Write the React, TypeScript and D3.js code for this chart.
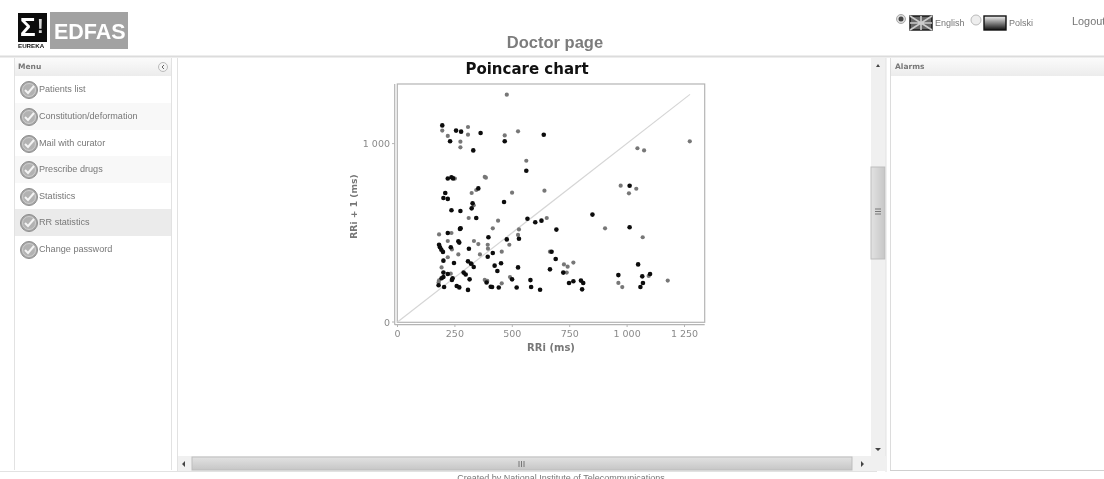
import React from "react";
import * as d3 from "d3";

const title = "Poincare chart";
const xAxisLabel = "RRi (ms)";
const yAxisLabel = "RRi + 1 (ms)";
const xTicks = [0, 250, 500, 750, 1000, 1250];
const yTicks = [0, 1000];
const diagonal: [number, number][] = [[0, 0], [1274, 1276]];
const menuItems = ["Patients list", "Constitution/deformation", "Mail with curator", "Prescribe drugs", "Statistics", "RR statistics", "Change password"];

const darkPoints: [number, number][] = [
  [195,1102],[229,1013],[255,1073],[277,1067],[330,962],[362,1059],[467,1013],[637,1050],[561,848],
  [219,804],[235,811],[242,805],[208,723],[200,695],[219,690],[235,626],[274,622],[352,749],[464,673],
  [327,665],[323,637],[343,583],[566,579],[600,559],[627,568],[275,525],[272,522],[219,499],[265,452],
  [269,445],[396,475],[476,463],[529,467],[181,433],[185,419],[191,405],[198,393],[232,419],[311,411],
  [415,387],[393,366],[200,344],[246,331],[307,340],[320,327],[332,308],[423,316],[435,286],[451,329],
  [525,306],[200,277],[219,269],[200,252],[192,245],[240,245],[237,236],[288,277],[297,266],[314,239],
  [179,206],[203,196],[258,202],[269,194],[307,180],[388,221],[406,198],[412,196],[441,193],[499,239],
  [519,193],[579,235],[582,196],[621,181],[664,295],[849,602],[1011,531],[692,518],[671,394],[689,353],
  [722,277],[747,219],[766,228],[799,232],[809,219],[804,183],[1048,323],[962,263],[1066,256],[1100,269],
  [1069,219],[1058,196],[1011,764],
];
const greyPoints: [number, number][] = [
  [476,1274],[195,1073],[219,1043],[307,1093],[307,1050],[274,1011],[274,979],[467,1046],[525,1069],
  [561,904],[250,804],[380,813],[385,809],[323,723],[343,740],[499,725],[640,736],[332,654],[310,583],
  [650,583],[438,568],[415,525],[181,491],[235,499],[219,454],[333,454],[352,437],[529,519],[525,488],
  [487,433],[237,407],[393,433],[394,411],[454,394],[359,379],[265,379],[219,363],[192,306],[325,325],
  [232,271],[181,234],[179,222],[380,236],[391,230],[454,217],[490,252],[664,394],[904,525],[1068,475],
  [725,323],[741,310],[766,333],[737,277],[962,219],[979,196],[1094,258],[1177,232],[1045,974],[1074,962],
  [1273,1013],[972,764],[1040,747],[1008,721],
];

const sans = "'Liberation Sans', Arial, sans-serif";
const deja = "'DejaVu Sans', sans-serif";
const fmt = (v: number) => d3.format(",")(v).replace(/,/g, " ");

function Check({ cx, cy }: { cx: number; cy: number }) {
  return (
    <g>
      <circle cx={cx} cy={cy} r={8.5} fill="#a6a6a6" stroke="#8e8e8e" strokeWidth={1} />
      <circle cx={cx} cy={cy} r={6.5} fill="#b2b2b2" stroke="#d8d8d8" strokeWidth={0.8} />
      <path d={`M${cx - 4} ${cy} L${cx - 1} ${cy + 3} L${cx + 5} ${cy - 4}`} fill="none" stroke="#f4f4f4" strokeWidth={2} />
    </g>
  );
}

export default function App() {
  const x = d3.scaleLinear().domain([0, 1250]).range([397.5, 684.5]);
  const y = d3.scaleLinear().domain([0, 1000]).range([322, 143.6]);
  const line = d3.line<[number, number]>().x((d) => x(d[0])).y((d) => y(d[1]));
  const rowTops = [76, 103, 130, 156, 183, 209, 236];
  const tickColor = "#8a8a8a";
  return (
    <svg width={1104} height={479} style={{ position: "fixed", left: 0, top: 0, background: "#fff", filter: "blur(0.45px)" }}>
      <defs>
        <linearGradient id="hd" x1="0" x2="0" y1="0" y2="1">
          <stop offset="0" stopColor="#fbfbfb" />
          <stop offset="1" stopColor="#ececec" />
        </linearGradient>
        <linearGradient id="sb" x1="0" x2="0" y1="0" y2="1">
          <stop offset="0" stopColor="#e2e2e2" />
          <stop offset="1" stopColor="#c6c6c6" />
        </linearGradient>
        <linearGradient id="sv" x1="0" x2="1" y1="0" y2="0">
          <stop offset="0" stopColor="#e2e2e2" />
          <stop offset="1" stopColor="#c6c6c6" />
        </linearGradient>
        <linearGradient id="pl" x1="0" x2="0" y1="0" y2="1">
          <stop offset="0" stopColor="#f4f4f4" />
          <stop offset="1" stopColor="#111" />
        </linearGradient>
      </defs>

      {/* Header */}
      <rect x={18} y={13} width={29} height={36} fill="#0c0c0c" />
      <rect x={18} y={42} width={29} height={7} fill="#fff" />
      <text x={20} y={36} fontFamily={sans} fontSize={26} fontWeight={700} fill="#fff">Σ</text>
      <text x={37} y={33} fontFamily={sans} fontSize={20} fontWeight={700} fill="#d8d8d8">!</text>
      <text x={18} y={48} fontFamily={sans} fontSize={6.2} fontWeight={700} fill="#111">EUREKA</text>
      <rect x={50} y={12} width={78} height={37} fill="#a2a2a2" />
      <text x={54} y={39} fontFamily={sans} fontSize={21.5} fontWeight={700} fill="#fff">EDFAS</text>
      <text x={555} y={47.5} textAnchor="middle" fontFamily={sans} fontSize={16.5} fontWeight={700} fill="#7c7c7c">Doctor page</text>

      <circle cx={901} cy={19} r={4.5} fill="#ddd" stroke="#aaa" />
      <circle cx={901} cy={19} r={2.5} fill="#444" />
      <rect x={910} y={16} width={22} height={14} fill="#666" stroke="#111" strokeWidth={1.4} />
      <path d="M910 16L932 30M932 16L910 30M921 16V30M910 23H932" stroke="#ccc" strokeWidth={1.6} />
      <text x={935} y={26} fontFamily={sans} fontSize={9} fill="#777">English</text>
      <circle cx={976} cy={20} r={5} fill="#eee" stroke="#bbb" />
      <rect x={984} y={16} width={22} height={14} fill="url(#pl)" stroke="#111" strokeWidth={1.4} />
      <text x={1009} y={26} fontFamily={sans} fontSize={9} fill="#777">Polski</text>
      <text x={1072} y={25} fontFamily={sans} fontSize={10.9} fill="#777">Logout</text>

      <line x1={0} x2={1104} y1={56.5} y2={56.5} stroke="#dcdcdc" strokeWidth={2} />

      {/* Left menu */}
      <rect x={14} y={58} width={158} height={18} fill="url(#hd)" />
      <text x={18} y={69} fontFamily={deja} fontSize={7.5} fontWeight={700} fill="#777">Menu</text>
      <circle cx={163} cy={67} r={4.5} fill="#f4f4f4" stroke="#bbb" />
      <path d="M164 65L162 67L164 69" fill="none" stroke="#666" />
      {menuItems.map((m, i) => (
        <g key={m}>
          <rect x={14} y={rowTops[i]} width={158} height={(rowTops[i + 1] ?? rowTops[i] + 27) - rowTops[i]}
            fill={i === 5 ? "#ebebeb" : i % 2 === 1 ? "#f8f8f8" : "#fff"} />
          <Check cx={29} cy={rowTops[i] + 14} />
          <text x={39} y={rowTops[i] + 15.5} fontFamily={sans} fontSize={9.1} fill="#777">{m}</text>
        </g>
      ))}
      <line x1={14.5} x2={14.5} y1={58} y2={470} stroke="#e2e2e2" />
      <line x1={171.5} x2={171.5} y1={58} y2={470} stroke="#e2e2e2" />
      <line x1={177.5} x2={177.5} y1={58} y2={472} stroke="#e2e2e2" />

      {/* Vertical scrollbar */}
      <rect x={871} y={58} width={15} height={398} fill="#f0f0f0" />
      <rect x={871} y={167} width={14} height={92} fill="url(#sv)" stroke="#bdbdbd" />
      <path d="M876 67L878 64L880 67Z M875 448L881 448L878 451Z" fill="#444" />
      <path d="M875 209H881M875 211.5H881M875 214H881" stroke="#777" />
      <line x1={886} x2={886} y1={58} y2={472} stroke="#e2e2e2" />

      {/* Horizontal scrollbar */}
      <rect x={178} y={456} width={708} height={15} fill="#f0f0f0" />
      <rect x={192} y={457} width={660} height={13} fill="url(#sb)" stroke="#bdbdbd" />
      <path d="M185 461L182 464L185 467Z M861 461L864 464L861 467Z" fill="#444" />
      <path d="M519 461V467M521.5 461V467M524 461V467" stroke="#777" />

      {/* Alarms panel */}
      <rect x={890} y={58} width={214} height={18} fill="url(#hd)" />
      <text x={895} y={69} fontFamily={deja} fontSize={7.5} fontWeight={700} fill="#777">Alarms</text>
      <line x1={890.5} x2={890.5} y1={58} y2={471} stroke="#dcdcdc" />
      <line x1={890} x2={1104} y1={470.5} y2={470.5} stroke="#cfcfcf" />

      <line x1={0} x2={877} y1={471.5} y2={471.5} stroke="#e2e2e2" />
      <text x={561} y={481} textAnchor="middle" fontFamily={sans} fontSize={9} fill="#777">Created by National Institute of Telecommunications</text>

      {/* Chart */}
      <text x={527} y={73.5} textAnchor="middle" fontFamily={deja} fontSize={15} fontWeight={700} fill="#111">{title}</text>
      <rect x={397.3} y={84} width={307.4} height={238.3} fill="#fff" stroke="#b4b4b4" strokeWidth={1.2} />
      <line x1={394.7} x2={394.7} y1={84} y2={324.7} stroke="#b4b4b4" strokeWidth={1.2} />
      <line x1={394.7} x2={704.7} y1={324.7} y2={324.7} stroke="#b4b4b4" strokeWidth={1.2} />
      <path d={line(diagonal) ?? ""} fill="none" stroke="#d6d6d6" strokeWidth={1.2} />
      {greyPoints.map((d, i) => (
        <circle key={"g" + i} cx={x(d[0])} cy={y(d[1])} r={2.1} fill="#777" />
      ))}
      {darkPoints.map((d, i) => (
        <circle key={"d" + i} cx={x(d[0])} cy={y(d[1])} r={2.3} fill="#0c0c0c" />
      ))}
      {xTicks.map((t) => (
        <g key={t}>
          <line x1={x(t)} x2={x(t)} y1={324.7} y2={327} stroke="#b4b4b4" />
          <text x={x(t)} y={337} textAnchor="middle" fontFamily={deja} fontSize={9.5} fill={tickColor}>{fmt(t)}</text>
        </g>
      ))}
      {yTicks.map((t) => (
        <g key={t}>
          <line x1={392} x2={394.7} y1={y(t)} y2={y(t)} stroke="#b4b4b4" />
          <text x={390} y={y(t) + 3.5} textAnchor="end" fontFamily={deja} fontSize={9.5} fill={tickColor}>{fmt(t)}</text>
        </g>
      ))}
      <text x={551} y={351} textAnchor="middle" fontFamily={deja} fontSize={10} fontWeight={700} fill="#777">{xAxisLabel}</text>
      <text transform="translate(356.5 206.5) rotate(-90)" textAnchor="middle" fontFamily={deja} fontSize={9.2} fontWeight={700} fill="#777">{yAxisLabel}</text>
    </svg>
  );
}
